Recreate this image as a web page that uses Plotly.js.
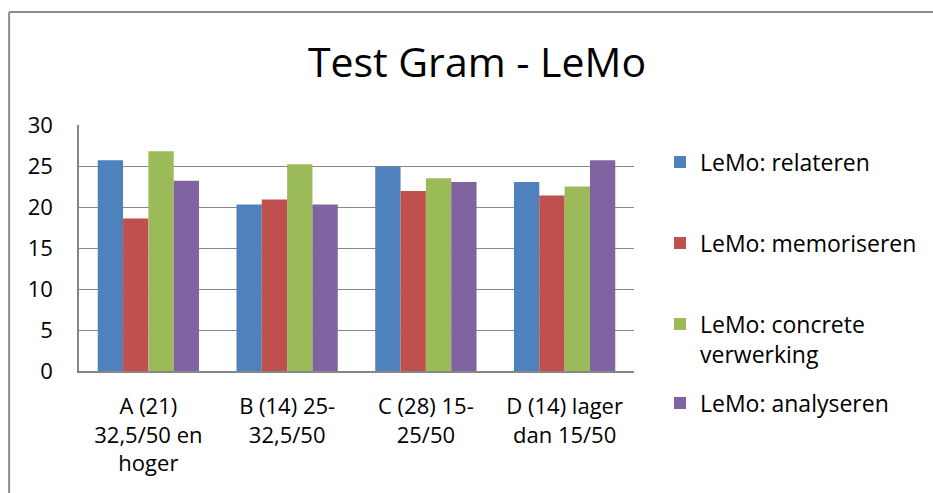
<!DOCTYPE html>
<html>
<head>
<meta charset="utf-8">
<script src="https://cdn.plot.ly/plotly-3.0.1.min.js"></script>
<style>html,body{margin:0;padding:0;background:#fff;}#chart{width:933px;height:493px;}</style>
</head>
<body>
<div id="chart"></div>
<script>
var categories = ["A (21)<br>32,5/50 en<br>hoger", "B (14) 25-<br>32,5/50", "C (28) 15-<br>25/50", "D (14) lager<br>dan 15/50"];
var seriesNames = ["LeMo: relateren", "LeMo: memoriseren", "LeMo: concrete<br>verwerking", "LeMo: analyseren"];
var relateren = [25.7, 20.3, 24.9, 23.05];
var memoriseren = [18.6, 20.9, 21.95, 21.4];
var concrete = [26.8, 25.2, 23.5, 22.5];
var analyseren = [23.2, 20.3, 23.05, 25.7];
var yTicks = [0, 5, 10, 15, 20, 25, 30];

var colors = ["#4F81BD", "#C0504D", "#9BBB59", "#8064A2"];
var values = [relateren, memoriseren, concrete, analyseren];
var legendIds = ["legend", "legend2", "legend3", "legend4"];

var font = "'Open Sans', 'Noto Sans', sans-serif";
var traces = values.map(function (v, i) {
  return {
    type: "bar",
    x: categories,
    y: v,
    name: seriesNames[i],
    legend: legendIds[i],
    showlegend: true,
    marker: {color: colors[i], line: {width: 0}},
    hoverinfo: "y+name"
  };
});

var L = 79, R = 635, T = 125, B = 371, W = 933, H = 493;
function px2x(p) { return (p - L) / (R - L); }
function py2y(p) { return (B - p) / (B - T); }

function legendAt(py, yanchor) {
  return {
    x: px2x(660), xanchor: "left",
    y: py2y(py), yanchor: yanchor,
    bgcolor: "rgba(0,0,0,0)",
    borderwidth: 0,
    valign: "top",
    font: {family: font, size: 23, color: "#000"}
  };
}

var layout = {
  width: W, height: H,
  showlegend: true,
  margin: {l: L, r: W - R, t: T, b: H - B, pad: 0},
  paper_bgcolor: "#fff",
  plot_bgcolor: "#fff",
  font: {family: font, color: "#000"},
  title: {
    text: "Test Gram - LeMo",
    font: {family: font, size: 41, color: "#000"},
    xref: "container", x: 477 / W, xanchor: "center",
    yref: "container", y: 1 - 63 / H, yanchor: "middle"
  },
  bargap: 0.27,
  bargroupgap: 0,
  barmode: "group",
  xaxis: {
    type: "category",
    showgrid: false,
    showline: true, linecolor: "#868686", linewidth: 1.5,
    ticks: "",
    ticklabelstandoff: 15,
    tickfont: {family: font, size: 22, color: "#000"},
    fixedrange: true
  },
  yaxis: {
    range: [0, 30],
    tickvals: yTicks,
    ticktext: yTicks.map(String),
    showgrid: true, gridcolor: "#878787", gridwidth: 1,
    showline: true, linecolor: "#868686", linewidth: 1.5,
    zeroline: false,
    ticks: "",
    ticklabelstandoff: 20,
    tickfont: {family: font, size: 22, color: "#000"},
    fixedrange: true
  },
  legend: legendAt(162, "middle"),
  legend2: legendAt(243, "middle"),
  legend3: legendAt(339, "middle"),
  legend4: legendAt(403, "middle"),
  shapes: [
    {type: "line", xref: "paper", yref: "paper", x0: px2x(9), x1: px2x(940), y0: py2y(12), y1: py2y(12), line: {color: "#8c8c8c", width: 2}},
    {type: "line", xref: "paper", yref: "paper", x0: px2x(9), x1: px2x(9), y0: py2y(12), y1: py2y(500), line: {color: "#8c8c8c", width: 2}}
  ]
};

Plotly.newPlot("chart", traces, layout, {displayModeBar: false, staticPlot: false});
</script>
</body>
</html>
